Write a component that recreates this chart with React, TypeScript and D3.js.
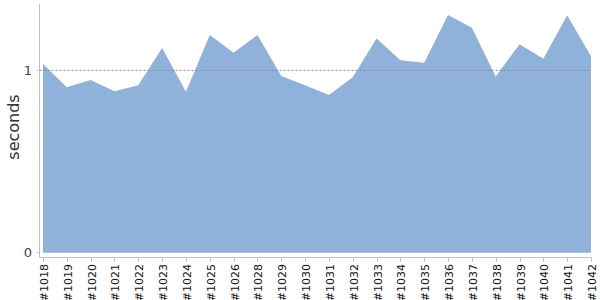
import React from "react";
import * as d3 from "d3";

const builds = ["#1018","#1019","#1020","#1021","#1022","#1023","#1024","#1025","#1026","#1028","#1029","#1030","#1031","#1032","#1033","#1034","#1035","#1036","#1037","#1038","#1039","#1040","#1041","#1042"];
const seconds = [1.035,0.908,0.947,0.886,0.919,1.122,0.883,1.194,1.096,1.194,0.969,0.919,0.865,0.962,1.175,1.056,1.042,1.303,1.234,0.967,1.143,1.064,1.302,1.078];
const yTicks = [0, 1];
const refLine = 1;

const W = 600, H = 300;
const FONT = "'DejaVu Sans', Verdana, sans-serif";

export default function App() {
  const x = d3.scalePoint<string>().domain(builds).range([43, 591]);
  const y = d3.scaleLinear().domain([0, 1.364]).range([252.7, 4]);
  const area = d3.area<number>()
    .x((_, i) => x(builds[i]) as number)
    .y0(y(0))
    .y1((d) => y(d));
  const axisY = 257.5;
  const axisX = 39.5;
  return (
    <svg width={W} height={H} style={{ position: "absolute", left: 0, top: 0, display: "block" }}>
      <path d={area(seconds) || ""} fill="#8FB1DA" />
      <line x1={axisX} x2={591} y1={y(refLine)} y2={y(refLine)} stroke="#888" strokeWidth={1} strokeDasharray="2,2" />
      <line x1={axisX} x2={axisX} y1={4} y2={axisY} stroke="#c0c0c0" strokeWidth={1} />
      <line x1={axisX} x2={591.5} y1={axisY} y2={axisY} stroke="#c0c0c0" strokeWidth={1} />
      {yTicks.map((t) => (
        <g key={t}>
          <line x1={axisX - 3} x2={axisX} y1={y(t)} y2={y(t)} stroke="#c0c0c0" />
          <text x={32} y={y(t)} dy="0.35em" textAnchor="end" fontFamily={FONT} fontSize={13} fill="#444">{t}</text>
        </g>
      ))}
      {builds.map((b) => {
        const px = Math.round(x(b) as number) + 0.5;
        return (
          <g key={b}>
            <line x1={px} x2={px} y1={axisY} y2={axisY + 4} stroke="#c0c0c0" />
            <text transform={`translate(${px + 4},${axisY + 6.5}) rotate(-90)`} textAnchor="end" fontFamily={FONT} fontSize={11} fill="#111">{b}</text>
          </g>
        );
      })}
      <text transform={`translate(18.5,127) rotate(-90)`} textAnchor="middle" fontFamily={FONT} fontSize={16} fill="#333">seconds</text>
    </svg>
  );
}
